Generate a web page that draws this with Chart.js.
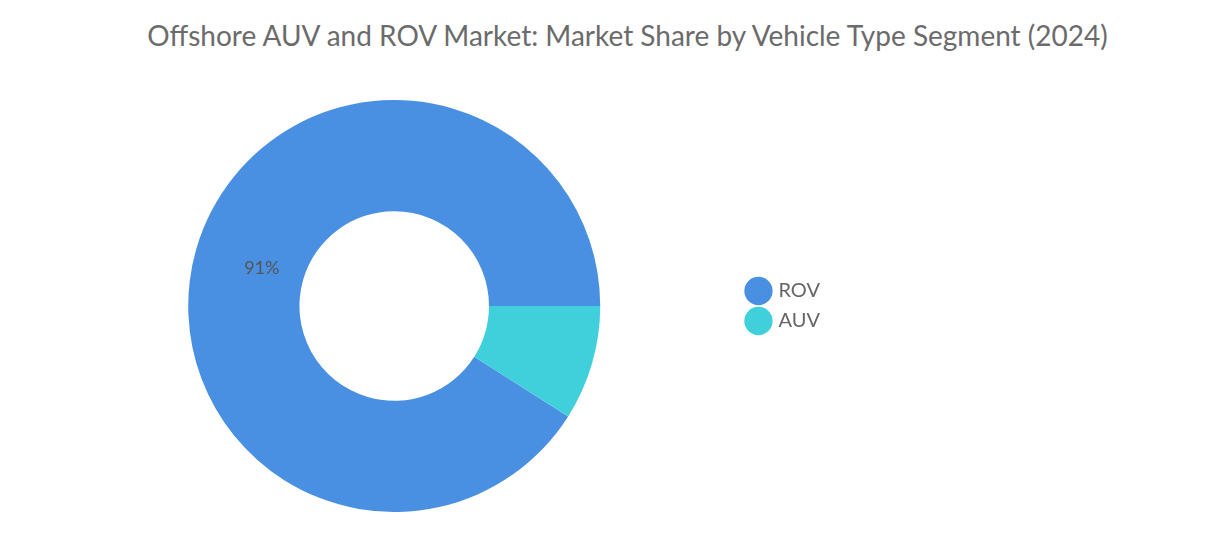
<!DOCTYPE html>
<html><head><meta charset="utf-8">
<script src="https://cdn.jsdelivr.net/npm/chart.js@4"></script>
<style>
body{margin:0;background:#fff;width:1210px;height:547px;position:relative;overflow:hidden;font-family:Lato,sans-serif}
#t{position:absolute;top:18px;left:0;width:1255px;text-align:center;font-size:28px;color:#6b6b6b}
#c{position:absolute;left:0;top:100px}
</style></head><body>
<div id="t">Offshore AUV and ROV Market: Market Share by Vehicle Type Segment (2024)</div>
<canvas id="c" width="830" height="412"></canvas>
<script>
const categories=["ROV","AUV"];
const shares=[91,9];
const colors=["#4A90E2","#40D0DB"];
const lbl={id:'lbl',afterDatasetsDraw(ch){const ctx=ch.ctx;const arc=ch.getDatasetMeta(0).data[0];const p=arc.tooltipPosition();ctx.save();ctx.font='18px Lato';ctx.fillStyle='#555';ctx.textAlign='center';ctx.textBaseline='middle';ctx.fillText(shares[0]+'%',p.x+12,p.y+4);ctx.restore();}};
new Chart(document.getElementById('c'),{type:'doughnut',
data:{labels:categories,datasets:[{data:shares,backgroundColor:colors,borderWidth:0}]},
options:{responsive:false,animation:false,cutout:'46%',rotation:122.4,
layout:{padding:{left:50}},
plugins:{tooltip:{enabled:false},legend:{position:'right',labels:{usePointStyle:true,pointStyle:'circle',boxWidth:22,boxHeight:22,padding:10,color:'#666',font:{family:'Lato',size:20}}}}},
plugins:[lbl]});
</script></body></html>
